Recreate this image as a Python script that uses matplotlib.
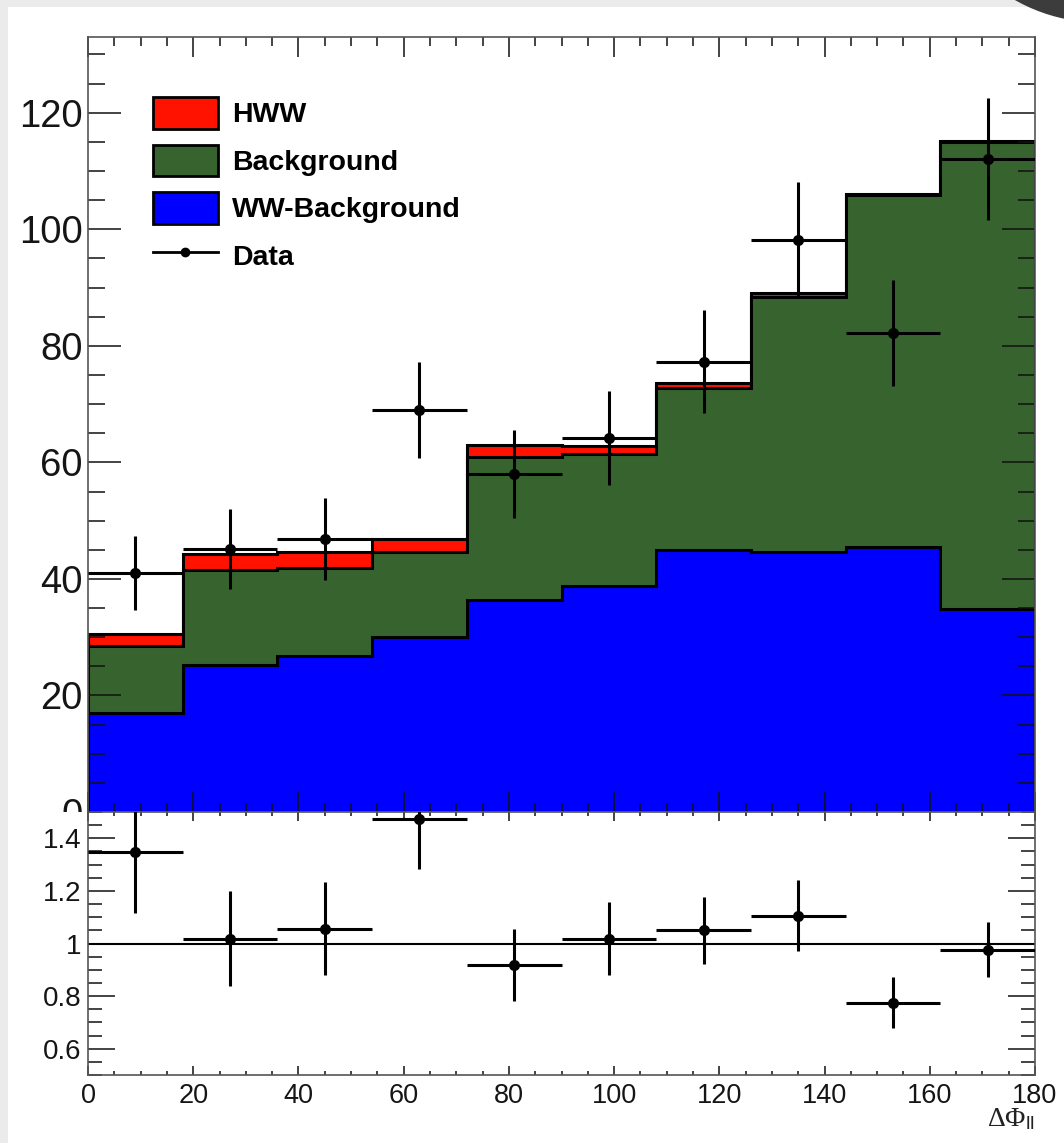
import numpy as np
import matplotlib
matplotlib.use('Agg')
import matplotlib.pyplot as plt
from matplotlib.patches import Patch, Rectangle, Ellipse
from matplotlib.lines import Line2D
from matplotlib.ticker import MultipleLocator, FixedLocator, FuncFormatter

# ---------------- data ----------------
bin_edges = [0, 18, 36, 54, 72, 90, 108, 126, 144, 162, 180]
ww_background = [17.0, 25.2, 26.8, 30.0, 36.4, 38.8, 44.9, 44.6, 45.5, 34.8]
background = [11.5, 16.3, 15.1, 14.7, 24.6, 22.7, 27.9, 43.7, 60.3, 80.1]
hww = [2.0, 2.8, 2.7, 2.1, 2.0, 1.3, 0.8, 0.7, 0.3, 0.3]
data = [41.0, 45.1, 46.9, 69.0, 58.0, 64.2, 77.3, 98.2, 82.2, 112.1]
data_err = [6.4, 6.9, 7.0, 8.3, 7.6, 8.0, 8.8, 9.9, 9.1, 10.5]
ratio = [1.347, 1.018, 1.057, 1.474, 0.918, 1.019, 1.050, 1.106, 0.774, 0.977]
ratio_err = [0.23, 0.18, 0.175, 0.19, 0.137, 0.14, 0.128, 0.134, 0.097, 0.105]
legend_labels = ['HWW', 'Background', 'WW-Background', 'Data']
ratio_ticks = [0.6, 0.8, 1.0, 1.2, 1.4]
xlabel = r'$\Delta\Phi_{\mathsf{ll}}$'

RED = '#ff1200'
GREEN = '#37642e'
BLUE = '#0000ff'

plt.rcParams['font.family'] = ['Liberation Sans', 'DejaVu Sans']
plt.rcParams['mathtext.fontset'] = 'custom'
plt.rcParams['mathtext.rm'] = 'Liberation Serif'
plt.rcParams['mathtext.it'] = 'Liberation Serif:italic'
plt.rcParams['mathtext.sf'] = 'Liberation Sans'

W, H = 1064, 1143
fig = plt.figure(figsize=(W / 100, H / 100), dpi=100)
fig.patch.set_facecolor('#ebebeb')
fig.add_artist(Rectangle((8 / W, 0), 1, (H - 7) / H, transform=fig.transFigure,
                         facecolor='white', edgecolor='none', zorder=-10))
fig.add_artist(Ellipse((1100 / W, 1 + 150 / H), 345 / W, 345 / H, transform=fig.transFigure,
                       facecolor='#3c3c3c', edgecolor='none', zorder=-5))

left, right = 88 / W, 1035 / W
ax = fig.add_axes([left, 1 - 812 / H, right - left, (812 - 37) / H])
axr = fig.add_axes([left, 1 - 1075 / H, right - left, (1075 - 812) / H])
ax.set_zorder(1)
axr.set_zorder(3)
# ROOT pad boundary cuts the "0" label
fig.add_artist(Rectangle((8 / W, 1 - 827 / H), (87 - 8) / W, 15 / H, transform=fig.transFigure,
                         facecolor='white', edgecolor='none', zorder=2))

edges = np.array(bin_edges, dtype=float)
centers = (edges[:-1] + edges[1:]) / 2
xerr = np.diff(edges) / 2

s_ww = np.array(ww_background)
s_bkg = s_ww + np.array(background)
s_tot = s_bkg + np.array(hww)

for vals, col in [(s_tot, RED), (s_bkg, GREEN), (s_ww, BLUE)]:
    ax.stairs(vals, edges, baseline=0, fill=True, facecolor=col,
              edgecolor='black', linewidth=2.2, zorder=1)

ax.errorbar(centers, data, yerr=data_err, xerr=xerr, fmt='o', color='black',
            ms=7, elinewidth=2.2, capsize=0, zorder=5)

ax.set_xlim(0, 180)
ax.set_ylim(0, 133)
ax.xaxis.set_major_locator(MultipleLocator(20))
ax.xaxis.set_minor_locator(MultipleLocator(5))
ax.yaxis.set_major_locator(MultipleLocator(20))
ax.yaxis.set_minor_locator(MultipleLocator(5))
ax.tick_params(axis='x', which='both', direction='in', top=True, bottom=True,
               labelbottom=False, width=1.1, color='#111111')
ax.tick_params(axis='x', which='major', length=14.4)
ax.tick_params(axis='x', which='minor', length=6.5)
ax.tick_params(axis='y', which='both', direction='in', left=True, right=True,
               width=1.1, color='#111111', labelsize=27.5, labelcolor='#151515', pad=4)
ax.tick_params(axis='y', which='major', length=23.8)
ax.tick_params(axis='y', which='minor', length=12.2)
for sp in ax.spines.values():
    sp.set_color('#555555')
    sp.set_linewidth(1.2)

handles = [Patch(facecolor=RED, edgecolor='black', linewidth=2),
           Patch(facecolor=GREEN, edgecolor='black', linewidth=2),
           Patch(facecolor=BLUE, edgecolor='black', linewidth=2),
           Line2D([], [], color='black', marker='o', ms=6, lw=2)]
ax.legend(handles, legend_labels, loc='upper left',
          bbox_to_anchor=((153 - 88) / 947, (812 - 97) / 775),
          frameon=False, prop={'weight': 'bold', 'size': 20.5},
          handlelength=2.28, handleheight=1.33, labelspacing=0.56,
          handletextpad=0.49, borderaxespad=0, borderpad=0)

# ---------------- ratio panel ----------------
axr.set_facecolor('white')
axr.axhline(1.0, color='black', lw=1.5, zorder=2)
axr.errorbar(centers, ratio, yerr=ratio_err, xerr=xerr, fmt='o', color='black',
             ms=7, elinewidth=2.2, capsize=0, zorder=5)
axr.set_xlim(0, 180)
axr.set_ylim(0.5, 1.5)
axr.xaxis.set_major_locator(MultipleLocator(20))
axr.xaxis.set_minor_locator(MultipleLocator(5))
axr.yaxis.set_major_locator(FixedLocator(ratio_ticks))
axr.yaxis.set_minor_locator(MultipleLocator(0.05))
axr.yaxis.set_major_formatter(FuncFormatter(lambda v, p: f'{v:g}'))
axr.tick_params(axis='x', which='both', direction='in', top=True, bottom=True,
                width=1.1, color='#111111', labelsize=19.5, labelcolor='#151515', pad=6)
axr.tick_params(axis='x', which='major', length=6.5)
axr.tick_params(axis='x', which='minor', length=3.2)
axr.tick_params(axis='y', which='both', direction='in', left=True, right=True,
                width=1.1, color='#111111', labelsize=20, labelcolor='#151515', pad=5)
axr.tick_params(axis='y', which='major', length=19.4)
axr.tick_params(axis='y', which='minor', length=10)
for sp in axr.spines.values():
    sp.set_color('#555555')
    sp.set_linewidth(1.2)
axr.set_xlabel(xlabel, loc='right', fontsize=20, labelpad=-2, color='#222222')

fig.savefig('out.png', dpi=100, facecolor=fig.get_facecolor())
